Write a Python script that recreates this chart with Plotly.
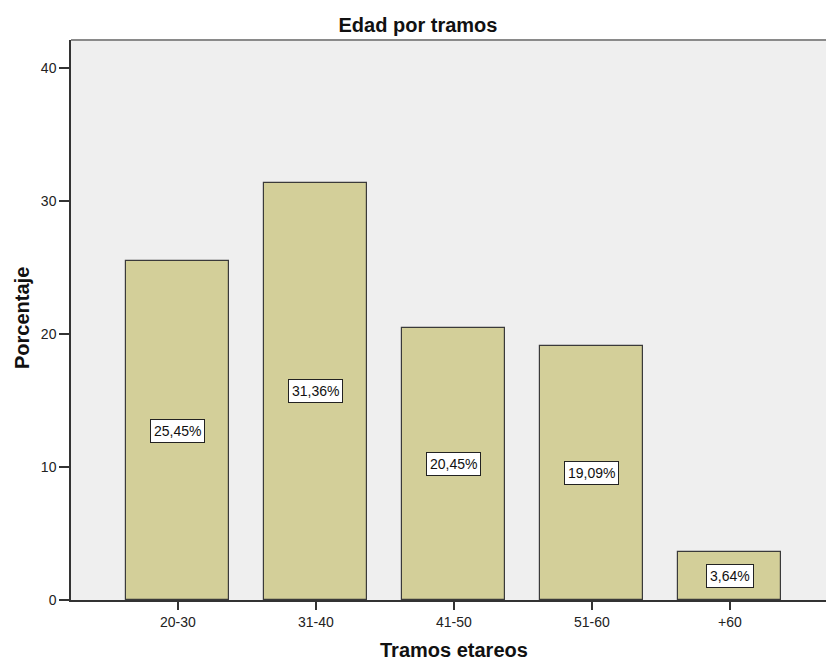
import plotly.graph_objects as go

categories = ["20-30", "31-40", "41-50", "51-60", "+60"]
percentages = [25.45, 31.36, 20.45, 19.09, 3.64]
y_ticks = [0, 10, 20, 30, 40]

W, H = 826, 660
ML, MR, MT, MB = 71, 0, 40, 60

xs = list(range(len(categories)))
FONT = "Liberation Sans, Arial, sans-serif"

fig = go.Figure()
fig.add_trace(go.Bar(
    x=xs,
    y=percentages,
    width=0.746,
    marker=dict(color="#D3CF99", line=dict(color="#3a3a3a", width=1.2)),
    hoverinfo="skip",
))

# value labels boxed in white, placed at mid-height of each bar
for xi, v in zip(xs, percentages):
    fig.add_annotation(
        x=xi, y=v / 2, xref="x", yref="y",
        text=f"{v:.2f}".replace(".", ",") + "%",
        showarrow=False,
        font=dict(family=FONT, size=14, color="#111"),
        bgcolor="white", bordercolor="#222", borderwidth=1, borderpad=3,
    )

# top border of the plot frame
fig.add_shape(type="line", xref="paper", yref="paper", x0=0, x1=1, y0=1, y1=1,
              line=dict(color="#8a8a8a", width=2))

# axis titles placed as annotations in pixel-based paper coordinates
plot_w = W - ML - MR
plot_h = H - MT - MB
fig.add_annotation(
    text="<b>Tramos etareos</b>", xref="paper", yref="paper",
    x=(454 - ML) / plot_w, y=-(650 - (H - MB)) / plot_h,
    xanchor="center", yanchor="middle", showarrow=False,
    font=dict(family=FONT, size=20, color="#111"),
)
fig.add_annotation(
    text="<b>Porcentaje</b>", xref="paper", yref="paper",
    x=-(ML - 22) / plot_w, y=(H - MB - 318) / plot_h,
    xanchor="center", yanchor="middle", textangle=-90, showarrow=False,
    font=dict(family=FONT, size=20, color="#111"),
)

fig.update_layout(
    width=W, height=H,
    margin=dict(l=ML, r=MR, t=MT, b=MB, pad=0),
    paper_bgcolor="white",
    plot_bgcolor="#EFEFEF",
    showlegend=False,
    bargap=0,
    font=dict(family=FONT, size=14, color="#222"),
    title=dict(text="<b>Edad por tramos</b>", x=418 / W, xanchor="center",
               y=1 - 25 / H, yanchor="middle",
               font=dict(size=20, color="#111")),
)

fig.update_xaxes(
    range=[-0.775, 4.696],
    tickmode="array", tickvals=xs, ticktext=categories,
    ticks="outside", ticklen=8, tickwidth=1.5, tickcolor="#333",
    showline=True, linecolor="#333", linewidth=1.5,
    showgrid=False, zeroline=False,
    tickfont=dict(size=14, color="#222"),
)
fig.update_yaxes(
    range=[0, 42.1],
    tickmode="array", tickvals=y_ticks,
    ticks="outside", ticklen=10, tickwidth=1.5, tickcolor="#333",
    showline=True, linecolor="#333", linewidth=1.5,
    showgrid=False, zeroline=False,
    tickfont=dict(size=14, color="#222"),
)

fig.write_html("out.html")
